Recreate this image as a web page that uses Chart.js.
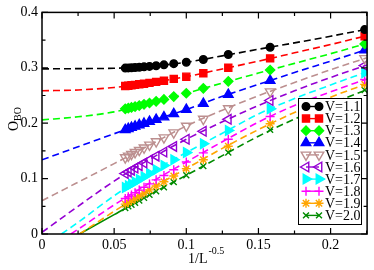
<!DOCTYPE html>
<html lang="en">
<head>
    <meta charset="UTF-8">
    <title>O_BO vs 1/L</title>
    <style>
        html, body { margin: 0; padding: 0; background: #fff; }
        #chart { display: block; }
    </style>
</head>
<body>
    <canvas id="chart" width="374" height="270"></canvas>

    <script src="https://cdn.jsdelivr.net/npm/chart.js"></script>
    <script>
        // x positions of the data points (1/sqrt(L), L = 20 ... 300)
        const xL = [0.2236, 0.1581, 0.1291, 0.1118, 0.1000, 0.0913, 0.0845, 0.0791,
                    0.0745, 0.0707, 0.0674, 0.0645, 0.0620, 0.0598, 0.0577];

        const seriesNames = ['V=1.1', 'V=1.2', 'V=1.3', 'V=1.4', 'V=1.5',
                             'V=1.6', 'V=1.7', 'V=1.8', 'V=1.9', 'V=2.0'];

        // O_BO, same order as xL
        const v11 = [0.3690, 0.3370, 0.3240, 0.3150, 0.3100, 0.3075, 0.3053, 0.3037, 0.3025, 0.3017, 0.3010, 0.3005, 0.3001, 0.2998, 0.2995];
        const v12 = [0.3570, 0.3170, 0.3000, 0.2900, 0.2840, 0.2800, 0.2768, 0.2746, 0.2728, 0.2714, 0.2702, 0.2692, 0.2684, 0.2677, 0.2670];
        const v13 = [0.3430, 0.2960, 0.2755, 0.2630, 0.2540, 0.2480, 0.2430, 0.2395, 0.2365, 0.2340, 0.2318, 0.2300, 0.2285, 0.2272, 0.2260];
        const v14 = [0.3320, 0.2770, 0.2515, 0.2355, 0.2245, 0.2170, 0.2110, 0.2065, 0.2028, 0.1995, 0.1968, 0.1942, 0.1920, 0.1900, 0.1880];
        const v15 = [0.3170, 0.2570, 0.2265, 0.2075, 0.1950, 0.1830, 0.1740, 0.1670, 0.1608, 0.1557, 0.1513, 0.1475, 0.1440, 0.1410, 0.1380];
        const v16 = [0.3040, 0.2410, 0.2070, 0.1855, 0.1710, 0.1580, 0.1480, 0.1405, 0.1338, 0.1282, 0.1233, 0.1190, 0.1152, 0.1120, 0.1090];
        const v17 = [0.2910, 0.2260, 0.1870, 0.1630, 0.1470, 0.1340, 0.1238, 0.1160, 0.1092, 0.1035, 0.0985, 0.0940, 0.0903, 0.0872, 0.0840];
        const v18 = [0.2790, 0.2120, 0.1710, 0.1465, 0.1300, 0.1161, 0.1056, 0.0977, 0.0904, 0.0845, 0.0792, 0.0745, 0.0706, 0.0673, 0.0640];
        const v19 = [0.2700, 0.1990, 0.1585, 0.1340, 0.1180, 0.1046, 0.0943, 0.0866, 0.0796, 0.0738, 0.0687, 0.0642, 0.0604, 0.0572, 0.0540];
        const v20 = [0.2600, 0.1880, 0.1470, 0.1225, 0.1060, 0.0936, 0.0842, 0.0771, 0.0706, 0.0653, 0.0606, 0.0564, 0.0529, 0.0500, 0.0470];
        const dataSets = [v11, v12, v13, v14, v15, v16, v17, v18, v19, v20];

        // extrapolation curves
        const fitX = [0.025, 0.05, 0.075, 0.1, 0.125, 0.15, 0.175, 0.2, 0.225];
        const fitStartX = [0, 0, 0, 0, 0, 0, 0.0135, 0.020, 0.026, 0.026];
        const fitStartY = [0.298, 0.2585, 0.206, 0.134, 0.060, 0.003, 0, 0, 0, 0];
        const fit11 = [0.2985, 0.2992, 0.3026, 0.3100, 0.3215, 0.3335, 0.3450, 0.3570, 0.3695];
        const fit12 = [0.2600, 0.2645, 0.2731, 0.2840, 0.2980, 0.3120, 0.3270, 0.3420, 0.3580];
        const fit13 = [0.2115, 0.2205, 0.2365, 0.2540, 0.2725, 0.2905, 0.3080, 0.3255, 0.3440];
        const fit14 = [0.1575, 0.1810, 0.2035, 0.2245, 0.2485, 0.2700, 0.2915, 0.3120, 0.3330];
        const fit15 = [0.0935, 0.1270, 0.1610, 0.1950, 0.2235, 0.2495, 0.2735, 0.2965, 0.3180];
        const fit16 = [0.0500, 0.0955, 0.1355, 0.1710, 0.2025, 0.2320, 0.2585, 0.2825, 0.3050];
        const fit17 = [0.0210, 0.0690, 0.1110, 0.1470, 0.1820, 0.2165, 0.2445, 0.2690, 0.2925];
        const fit18 = [0.0085, 0.0525, 0.0925, 0.1300, 0.1665, 0.2020, 0.2320, 0.2565, 0.2800];
        const fit19 = [null, 0.0410, 0.0810, 0.1180, 0.1545, 0.1885, 0.2195, 0.2470, 0.2710];
        const fit20 = [null, 0.0350, 0.0715, 0.1060, 0.1415, 0.1765, 0.2075, 0.2350, 0.2605];
        const fits = [fit11, fit12, fit13, fit14, fit15, fit16, fit17, fit18, fit19, fit20];

        const xTickVals = [0, 0.05, 0.1, 0.15, 0.2];
        const xTickText = ['0', '0.05', '0.1', '0.15', '0.2'];
        const yTickVals = [0, 0.1, 0.2, 0.3, 0.4];
        const yTickText = ['0', '0.1', '0.2', '0.3', '0.4'];

        // marker styles (grace-like)
        const styles = [
            { color: '#000000', ps: 'circle',   r: 3.8, rot: 0,   fill: true },
            { color: '#ff0000', ps: 'rect',     r: 5.0, rot: 0,   fill: true },
            { color: '#00ff00', ps: 'rectRot',  r: 4.6, rot: 0,   fill: true },
            { color: '#0000ff', ps: 'triangle', r: 5.5, rot: 0,   fill: true },
            { color: '#bc8f8f', ps: 'triangle', r: 5.5, rot: 180, fill: false },
            { color: '#9400d3', ps: 'triangle', r: 5.5, rot: 270, fill: false },
            { color: '#00ffff', ps: 'triangle', r: 5.5, rot: 90,  fill: true },
            { color: '#ff00ff', ps: 'cross',    r: 4.5, rot: 0,   fill: false },
            { color: '#ffa500', ps: 'star',     r: 4.5, rot: 0,   fill: false },
            { color: '#008b00', ps: 'crossRot', r: 4.2, rot: 0,   fill: false }
        ];

        const FONT = '"Liberation Serif", "Times New Roman", serif';
        const DASH = [7, 4];

        const datasets = [];
        fits.forEach((f, i) => {
            const pts = [{ x: fitStartX[i], y: fitStartY[i] }];
            fitX.forEach((x, k) => {
                if (f[k] !== null) pts.push({ x: x, y: f[k] });
            });
            datasets.push({
                label: 'fit ' + seriesNames[i],
                data: pts,
                borderColor: styles[i].color,
                borderWidth: 1.6,
                borderDash: DASH,
                pointRadius: 0,
                cubicInterpolationMode: 'monotone',
                fill: false,
                order: 2,
                segment: i === 9 ? { borderDash: ctx => ctx.p1.parsed.x <= 0.076 ? [] : DASH } : undefined
            });
        });
        dataSets.forEach((vals, i) => {
            const s = styles[i];
            datasets.push({
                label: seriesNames[i],
                data: xL.map((x, k) => ({ x: x, y: vals[k] })),
                showLine: false,
                pointStyle: s.ps,
                pointRadius: s.r,
                pointRotation: s.rot,
                pointBorderWidth: 1.4,
                pointBorderColor: s.color,
                pointBackgroundColor: s.fill ? s.color : 'rgba(0,0,0,0)',
                order: 1
            });
        });

        // frame, inward ticks, axis titles and legend box
        const framePlugin = {
            id: 'frame',
            afterDatasetsDraw(chart) {
                const ctx = chart.ctx;
                const a = chart.chartArea;
                const xs = chart.scales.x, ys = chart.scales.y;
                ctx.save();
                ctx.strokeStyle = '#000';
                ctx.lineWidth = 1.5;
                ctx.setLineDash([]);
                ctx.strokeRect(a.left, a.top, a.right - a.left, a.bottom - a.top);

                ctx.lineWidth = 1.2;
                for (let v = 0; v <= 0.2251; v += 0.025) {
                    const px = xs.getPixelForValue(v);
                    const len = Math.abs(v / 0.05 - Math.round(v / 0.05)) < 1e-6 ? 6 : 3.5;
                    ctx.beginPath();
                    ctx.moveTo(px, a.bottom); ctx.lineTo(px, a.bottom - len);
                    ctx.moveTo(px, a.top); ctx.lineTo(px, a.top + len);
                    ctx.stroke();
                }
                for (let v = 0; v <= 0.4001; v += 0.05) {
                    const py = ys.getPixelForValue(v);
                    const len = Math.abs(v / 0.1 - Math.round(v / 0.1)) < 1e-6 ? 6 : 3.5;
                    ctx.beginPath();
                    ctx.moveTo(a.left, py); ctx.lineTo(a.left + len, py);
                    ctx.moveTo(a.right, py); ctx.lineTo(a.right - len, py);
                    ctx.stroke();
                }

                // axis titles
                ctx.fillStyle = '#000';
                ctx.textBaseline = 'alphabetic';
                ctx.textAlign = 'left';
                ctx.font = '14px ' + FONT;
                ctx.fillText('1/L', 188, 263);
                const w1 = ctx.measureText('1/L').width;
                ctx.font = '10px ' + FONT;
                ctx.fillText('-0.5', 188 + w1 + 1, 254);

                ctx.save();
                ctx.translate(18, 131);
                ctx.rotate(-Math.PI / 2);
                ctx.font = '14px ' + FONT;
                ctx.fillText('O', 0, 0);
                const wO = ctx.measureText('O').width;
                ctx.font = '10px ' + FONT;
                ctx.fillText('BO', wO, 3);
                ctx.restore();

                // legend
                const bx = 298, by = 98, bw = 63, bh = 126;
                ctx.fillStyle = '#fff';
                ctx.fillRect(bx, by, bw, bh);
                ctx.lineWidth = 1;
                ctx.strokeRect(bx + 0.5, by + 0.5, bw, bh);
                seriesNames.forEach((name, i) => {
                    const s = styles[i];
                    const yy = by + 8.5 + i * 12.1;
                    ctx.strokeStyle = s.color;
                    ctx.lineWidth = 1.4;
                    ctx.beginPath();
                    ctx.moveTo(306, yy); ctx.lineTo(319, yy);
                    ctx.stroke();
                    ctx.fillStyle = s.fill ? s.color : 'rgba(0,0,0,0)';
                    const opts = { pointStyle: s.ps, radius: s.r, rotation: s.rot, borderWidth: 1.4 };
                    Chart.helpers.drawPoint(ctx, opts, 306, yy);
                    ctx.fillStyle = s.fill ? s.color : 'rgba(0,0,0,0)';
                    Chart.helpers.drawPoint(ctx, opts, 319, yy);
                    ctx.fillStyle = '#000';
                    ctx.font = '14px ' + FONT;
                    ctx.textBaseline = 'middle';
                    ctx.fillText(name, 325, yy + 1);
                });
                ctx.restore();
            }
        };

        new Chart(document.getElementById('chart'), {
            type: 'line',
            data: { datasets: datasets },
            options: {
                responsive: false,
                animation: false,
                layout: { padding: { top: 6, right: 3, left: 0, bottom: 0 } },
                plugins: {
                    legend: { display: false },
                    tooltip: { enabled: false }
                },
                scales: {
                    x: {
                        type: 'linear',
                        min: 0,
                        max: 0.2253,
                        grid: { display: false, drawTicks: false },
                        border: { display: false },
                        afterBuildTicks: s => { s.ticks = xTickVals.map(v => ({ value: v })); },
                        afterFit: s => { s.height = 36; },
                        ticks: {
                            padding: 3,
                            maxRotation: 0,
                            color: '#000',
                            font: { family: FONT, size: 14 },
                            callback: (v) => xTickText[xTickVals.indexOf(v)]
                        }
                    },
                    y: {
                        type: 'linear',
                        min: 0,
                        max: 0.4,
                        grid: { display: false, drawTicks: false },
                        border: { display: false },
                        afterBuildTicks: s => { s.ticks = yTickVals.map(v => ({ value: v })); },
                        afterFit: s => { s.width = 42; },
                        ticks: {
                            padding: 4,
                            color: '#000',
                            font: { family: FONT, size: 14 },
                            callback: (v) => yTickText[yTickVals.indexOf(v)]
                        }
                    }
                }
            },
            plugins: [framePlugin]
        });
    </script>
</body>
</html>
